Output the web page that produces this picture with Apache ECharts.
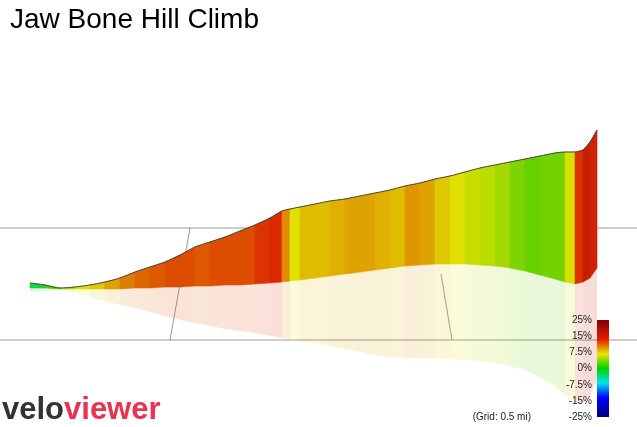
<!DOCTYPE html>
<html><head><meta charset="utf-8">
<script src="https://cdn.jsdelivr.net/npm/echarts@6/dist/echarts.min.js"></script>
<style>html,body{margin:0;padding:0;background:#fff}#c{width:637px;height:427px}</style>
</head><body><div id="c"></div>
<script>
// distance (px-scaled units), profile top, near base edge, reflection bottom (all as height units = 427 - screen y), grade %
const dist = [30,45,60,75,90,105,120,135,150,165,180,195,210,225,240,255,270,282,290,300,315,330,345,360,375,390,405,420,435,450,465,480,495,510,525,540,555,565,575,583,590,597];
const topY = [283,285,288,287,285,282,278,272,267,262,255,247,242,237,231,225,218,211,209,207,204,201,199,196,193,190,186,183,179,176,172,168,165,162,159,156,153,152,152,150,142,130];
const baseY = [288,288,289,289,289,289,289,288,288,287,287,286,286,285,285,284,283,282,281,280,278,276,274,272,270,268,266,265,264,264,264,265,266,268,271,275,279,282,284,282,278,268];
const reflY = [292,291,290,293,297,301,305,308,312,316,320,323,326,329,331,333,336,338,339,341,343,346,349,352,355,357,358,358,358,359,360,361,363,366,370,377,386,395,404,403,395,380];
const grade = [-3,-1,4,7,8,9,11,12,13,13,14,13,13,14,13,14,15,15,7,8,10,8,11,9,11,8,10,11,9,8,7,6,6,4,3,2,4,2,12,17,18,15];
const legendTicks = ['25%','15%','7.5%','0%','-7.5%','-15%','-25%'];
const H = 427;
const stops = [[-25,[0,0,120]],[-15,[0,0,255]],[-7.5,[0,230,230]],[0,[40,200,0]],[7.5,[225,225,0]],[15,[220,40,0]],[25,[130,0,0]]];
function col(g){ g=Math.max(-25,Math.min(25,g)); for(let i=0;i<stops.length-1;i++){const a=stops[i],b=stops[i+1]; if(g<=b[0]){const t=(g-a[0])/(b[0]-a[0]); return 'rgb('+a[1].map((v,k)=>Math.round(v+(b[1][k]-v)*t)).join(',')+')';}} return 'rgb(130,0,0)';}
const segs=[]; for(let i=0;i<dist.length-1;i++) segs.push([i]);
function mk(kind){return function(params,api){const i=api.value(0);
 const a=dist[i],b=dist[i+1];
 let pts;
 if(kind==='top') pts=[api.coord([a,H-topY[i]]),api.coord([b,H-topY[i+1]]),api.coord([b,H-baseY[i+1]]),api.coord([a,H-baseY[i]])];
 else pts=[api.coord([a,H-baseY[i]]),api.coord([b,H-baseY[i+1]]),api.coord([b,H-reflY[i+1]]),api.coord([a,H-reflY[i]])];
 const c=col((grade[i]+grade[i+1])/2);
 return {type:'polygon',shape:{points:pts},style:kind==='top'?{fill:c,stroke:c,lineWidth:0.6}:{fill:c,opacity:0.15}};};}
const chart=echarts.init(document.getElementById('c'));
chart.setOption({
 animation:false,
 title:{text:'Jaw Bone Hill Climb',left:5,top:1,textStyle:{fontFamily:'Liberation Sans',fontWeight:'normal',fontSize:28,color:'#000'}},
 grid:{left:0,right:0,top:0,bottom:0},
 xAxis:{type:'value',min:0,max:637,show:false},
 yAxis:{type:'value',min:0,max:427,show:false},
 graphic:[
  {type:'line',shape:{x1:0,y1:228,x2:637,y2:228},style:{stroke:'#999',lineWidth:1},z:1},
  {type:'line',shape:{x1:0,y1:340,x2:637,y2:340},style:{stroke:'#999',lineWidth:1},z:1},
  {type:'line',shape:{x1:190,y1:228,x2:170,y2:340},style:{stroke:'#999',lineWidth:1},z:1},
  {type:'line',shape:{x1:441,y1:274,x2:452,y2:340},style:{stroke:'#999',lineWidth:1},z:1},
  {type:'rect',shape:{x:597,y:320,width:12,height:97},style:{fill:new echarts.graphic.LinearGradient(0,0,0,1,[{offset:0,color:'#800000'},{offset:0.2,color:'#e61e00'},{offset:0.35,color:'#e6e600'},{offset:0.5,color:'#00d200'},{offset:0.65,color:'#00e6e6'},{offset:0.8,color:'#0000ff'},{offset:1,color:'#000078'}])},z:5},
  ...legendTicks.map((t,k)=>({type:'text',style:{text:t,x:592,y:320+k*16.2,align:'right',verticalAlign:'middle',fontSize:10,fontFamily:'Liberation Sans',fill:'#222'},z:5})),
  {type:'text',style:{text:'(Grid: 0.5 mi)',x:531,y:417,align:'right',verticalAlign:'middle',fontSize:10,fontFamily:'Liberation Sans',fill:'#222'},z:5},
  {type:'text',style:{text:'{a|velo}{b|viewer}',x:2,y:410,verticalAlign:'middle',rich:{a:{fontSize:31,fontWeight:'bold',fill:'#333',fontFamily:'Liberation Sans'},b:{fontSize:31,fontWeight:'bold',fill:'#e8344e',fontFamily:'Liberation Sans'}}},z:5}
 ],
 series:[
  {type:'custom',data:segs,renderItem:mk('refl'),z:2},
  {type:'custom',data:segs,renderItem:mk('top'),z:3},
  {type:'line',data:dist.map((d,i)=>[d,H-topY[i]]),showSymbol:false,smooth:0.3,lineStyle:{color:'#444',width:1},z:4}
 ]
});
</script></body></html>
